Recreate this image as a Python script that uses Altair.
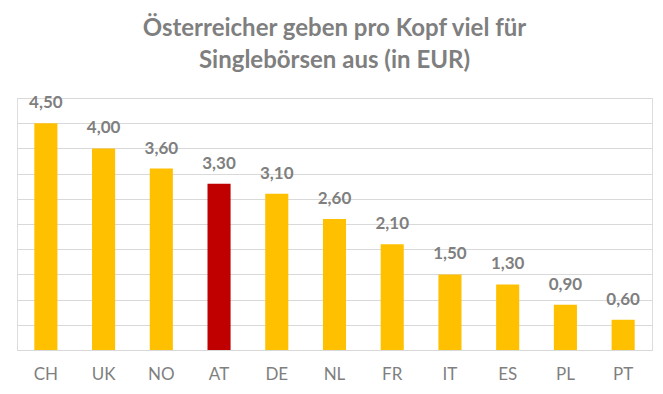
import altair as alt
import pandas as pd

countries = ["CH", "UK", "NO", "AT", "DE", "NL", "FR", "IT", "ES", "PL", "PT"]
values = [4.50, 4.00, 3.60, 3.30, 3.10, 2.60, 2.10, 1.50, 1.30, 0.90, 0.60]
highlight = "AT"

df = pd.DataFrame({
    "country": countries,
    "value": values,
    "label": [f"{v:.2f}".replace(".", ",") for v in values],
    "hl": ["yes" if c == highlight else "no" for c in countries],
})

gray = "#7F7F7F"
font = "Lato"

base = alt.Chart(df).encode(
    x=alt.X("country:N", sort=countries, title=None,
            scale=alt.Scale(paddingInner=0.6, paddingOuter=0.3),
            axis=alt.Axis(labelAngle=0, ticks=False, domainColor="#D9D9D9",
                          labelColor=gray, labelFontSize=17, labelFont=font,
                          labelPadding=16, grid=False)),
    y=alt.Y("value:Q", title=None,
            scale=alt.Scale(domain=[0, 5], nice=False),
            axis=alt.Axis(values=[i * 0.5 for i in range(11)], labels=False,
                          ticks=False, domain=False, gridColor="#D9D9D9")),
)

bars = base.mark_bar().encode(
    color=alt.Color("hl:N", scale=alt.Scale(domain=["no", "yes"], range=["#FFC000", "#C00000"]),
                    legend=None)
)

labels = base.mark_text(dy=-15, baseline="alphabetic", fontSize=17, fontWeight="bold",
                        font=font, color=gray).encode(text="label:N")

chart = (bars + labels).properties(
    width=635, height=252,
    autosize=alt.AutoSizeParams(type="none"),
    padding={"left": 9, "top": 90, "right": 3, "bottom": 36},
    title=alt.Title(["Österreicher geben pro Kopf viel für", "Singlebörsen aus (in EUR)"],
                    fontSize=24, font=font, fontWeight="bold", color=gray,
                    anchor="middle", lineHeight=32, offset=21),
).configure_view(fill="#F2F2F2", stroke=None).configure(background="white")

chart.save("out.html", embed_options={"renderer": "svg", "actions": False})
